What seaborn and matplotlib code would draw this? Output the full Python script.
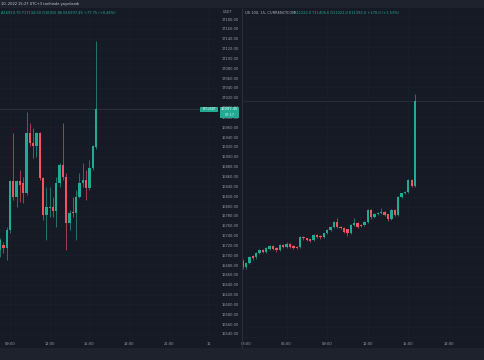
import matplotlib
matplotlib.use("Agg")
import matplotlib.pyplot as plt
from matplotlib.patches import Rectangle
from matplotlib.ticker import MultipleLocator, FuncFormatter
import numpy as np
import pandas as pd
import seaborn as sns

BG = "#161a25"
PANEL = "#1e222d"
GRID = "#1b1f2b"
UP = "#22ab94"
DOWN = "#f7525f"
TXT = "#9a9da6"
W, H = 485, 360

# BTCUSDT, 15 min (left pane)
btc_start = "2022-11-10 08:15"
btc_open = [16711, 16721, 16714, 16751, 16850, 16819, 16850, 16846, 16826, 16948,
            16928, 16921, 16948, 16856, 16782, 16795, 16799, 16789, 16846, 16884,
            16860, 16765, 16787, 16785, 16819, 16846, 16853, 16836, 16877, 16919.7]
btc_high = [16735, 16726, 16758, 16853, 16948, 16853, 16873, 16860, 16992, 16968,
            16958, 16951, 16951, 16860, 16839, 16839, 16819, 16860, 16887, 16968,
            16867, 16792, 16819, 16833, 16867, 16887, 16873, 16894, 16924, 17134.5]
btc_low = [16697, 16705, 16690, 16745, 16812, 16799, 16809, 16806, 16822, 16921,
           16897, 16900, 16853, 16772, 16731, 16778, 16778, 16758, 16839, 16853,
           16711, 16751, 16778, 16731, 16816, 16839, 16812, 16833, 16873, 16915.86]
btc_close = [16731, 16714, 16751, 16850, 16819, 16850, 16843, 16826, 16948, 16928,
             16921, 16948, 16856, 16782, 16799, 16799, 16789, 16846, 16884, 16860,
             16765, 16785, 16785, 16819, 16846, 16853, 16836, 16877, 16921, 16997.45]
btc_price_ticks = list(range(16540, 17181, 20))
btc_tick_times = ["2022-11-10 09:00", "2022-11-10 12:00", "2022-11-10 15:00",
                  "2022-11-10 18:00", "2022-11-10 21:00", "2022-11-11 00:00"]
btc_tick_labels = ["09:00", "12:00", "15:00", "18:00", "21:00", "11"]

# US 100, 15 min (right pane)
nq_start = "2022-11-10 02:45"
nq_open = [11072.6, 11059.4, 11068.6, 11082.0, 11079.4, 11087.4, 11094.0, 11090.0,
           11096.0, 11102.0, 11098.0, 11094.0, 11104.0, 11100.0, 11106.0, 11102.0,
           11100.6, 11100.6, 11120.6, 11117.4, 11115.4, 11114.0, 11124.0, 11122.0,
           11119.4, 11127.4, 11134.0, 11139.4, 11150.6, 11140.6, 11138.6, 11135.4,
           11128.6, 11144.0, 11148.6, 11144.0, 11144.0, 11150.6, 11174.0, 11160.6,
           11166.0, 11167.4, 11170.0, 11166.0, 11155.4, 11174.0, 11164.0, 11200.6,
           11207.4, 11210.6, 11234.0, 11222.0]
nq_high = [11076, 11071, 11083, 11085, 11091, 11097, 11097, 11100, 11105, 11104,
           11100, 11107, 11106, 11110, 11108, 11104, 11103, 11122, 11123, 11119,
           11117, 11126, 11126, 11124, 11129, 11136, 11142, 11152, 11157.4, 11142,
           11140, 11137, 11146, 11157.4, 11150, 11146, 11152, 11176, 11176, 11168,
           11170, 11177.4, 11172, 11167, 11176, 11176, 11202, 11209, 11212, 11236,
           11236, 11406.6]
nq_low = [11057, 11056, 11066, 11075, 11077, 11086, 11088, 11088, 11094, 11095,
          11090, 11092, 11098, 11098, 11099, 11096, 11096, 11099, 11115, 11112,
          11110, 11112, 11119, 11117, 11118, 11126, 11132, 11138, 11137.4, 11136,
          11129, 11122, 11127, 11142, 11139, 11140, 11142, 11149, 11157, 11159,
          11165, 11166, 11162, 11153, 11154, 11162, 11163, 11199, 11206, 11209,
          11220, 11221]
nq_close = [11060.6, 11068.6, 11080.6, 11077.4, 11088.6, 11094.0, 11090.0, 11098.0,
            11102.0, 11097.0, 11094.0, 11104.0, 11100.0, 11106.0, 11101.0, 11098.0,
            11098.0, 11120.6, 11117.4, 11114.0, 11112.6, 11124.0, 11120.6, 11119.4,
            11127.4, 11134.0, 11140.6, 11150.6, 11140.6, 11137.4, 11130.6, 11128.6,
            11144.0, 11147.4, 11140.6, 11142.0, 11150.6, 11174.0, 11159.4, 11166.0,
            11168.6, 11170.0, 11164.0, 11155.4, 11174.0, 11164.0, 11200.6, 11207.4,
            11210.6, 11234.0, 11222.0, 11392.0]
nq_tick_times = ["2022-11-10 03:00", "2022-11-10 06:00", "2022-11-10 09:00",
                 "2022-11-10 12:00", "2022-11-10 15:00", "2022-11-10 18:00"]
nq_tick_labels = ["03:00", "06:00", "09:00", "12:00", "15:00", "18:00"]


def make_frame(start, o, h, l, c):
    df = pd.DataFrame({"open": o, "high": h, "low": l, "close": c})
    df["time"] = pd.date_range(start, periods=len(df), freq="15min")
    return df


def draw_candles(ax, df):
    colors = np.where(df["close"] >= df["open"], UP, DOWN)
    bottom = df[["open", "close"]].min(axis=1)
    height = (df["close"] - df["open"]).abs().clip(lower=2)
    width = 10.5 / (24 * 60)
    ax.vlines(df["time"], df["low"], df["high"], colors=colors, lw=0.45)
    ax.bar(df["time"], height, bottom=bottom, width=width, color=colors, lw=0)
    ax.axhline(df["close"].iloc[-1], color="#2a353f", lw=0.6, zorder=0.5)


def px_axes(x0, y0, x1, y1):
    return fig.add_axes([x0 / W, 1 - y1 / H, (x1 - x0) / W, (y1 - y0) / H])


def style_axes(ax, ticks, labels):
    for s in ax.spines.values():
        s.set_visible(False)
    ax.set_xticks(pd.to_datetime(ticks))
    ax.set_xticklabels(labels)
    ax.grid(True, color=GRID, lw=0.5)
    ax.tick_params(axis="x", length=0, pad=1.6, labelsize=2.6, labelcolor=TXT)


sns.set_theme(style="dark", rc={"axes.facecolor": BG, "figure.facecolor": BG,
                                "axes.edgecolor": BG})
plt.rcParams["font.family"] = ["DejaVu Sans"]

btc = make_frame(btc_start, btc_open, btc_high, btc_low, btc_close)
nq = make_frame(nq_start, nq_open, nq_high, nq_low, nq_close)

fig = plt.figure(figsize=(W / 100, H / 100), dpi=100)

ax1 = px_axes(0, 8, 216, 340)
draw_candles(ax1, btc)
style_axes(ax1, btc_tick_times, btc_tick_labels)
ax1.set_xlim(pd.Timestamp("2022-11-10 08:14:40"), pd.Timestamp("2022-11-11 00:34:10"))
ax1.set_ylim(16527.8, 17202.4)
ax1.yaxis.tick_right()
ax1.set_yticks(btc_price_ticks)
ax1.yaxis.set_major_formatter(FuncFormatter(lambda v, p: f"{v:.2f}"))
ax1.tick_params(axis="y", length=0, pad=4.3, labelsize=2.6, labelcolor=TXT)

ax2 = px_axes(243, 8, 485, 340)
draw_candles(ax2, nq)
style_axes(ax2, nq_tick_times, nq_tick_labels)
ax2.set_xlim(pd.Timestamp("2022-11-10 02:46:50"), pd.Timestamp("2022-11-10 20:40:10"))
ax2.set_ylim(10914, 11578)
ax2.yaxis.set_major_locator(MultipleLocator(20))
ax2.tick_params(axis="y", length=0, labelleft=False)

# chrome: header bar, footer, separators, price labels
over = fig.add_axes([0, 0, 1, 1], facecolor="none")
over.set_xlim(0, W)
over.set_ylim(H, 0)
over.axis("off")
over.add_patch(Rectangle((0, 0), W, 8, color=PANEL, lw=0))
over.add_patch(Rectangle((0, 348), W, 12, color=PANEL, lw=0))
over.vlines(242, 8, 348, color="#2a2e39", lw=0.8)

over.text(1, 4.5, "10, 2022 15:27 UTC+3 tarihinde yayınlandı", fontsize=2.6,
          color="#c9ccd4", ha="left", va="center")
over.text(1, 13.5, "A16919.70 Y17134.50 D16915.86 K16997.45 +77.75 (+0.46%)",
          fontsize=2.6, color=UP, ha="left", va="center")
over.text(223, 12, "USDT", fontsize=2.5, color=TXT, ha="left", va="center")
over.text(245, 13.5, "US 100, 15, CURRENCYCOM", fontsize=2.6, color="#b2b5be",
          ha="left", va="center")
over.text(294, 13.5, "A11222.0 Y11406.6 D11221.0 K11392.0 +170.0 (+1.53%)",
          fontsize=2.6, color=UP, ha="left", va="center")

over.add_patch(Rectangle((200, 106.5), 18.5, 5.5, color=UP, lw=0))
over.text(209.2, 109.3, "BTCUSDT", fontsize=2.2, color="white", ha="center", va="center")
over.add_patch(Rectangle((220, 106.5), 19.5, 11.5, color=UP, lw=0))
over.text(229.7, 109.4, "16997.45", fontsize=2.6, color="white", ha="center", va="center")
over.text(229.7, 114.6, "07:17", fontsize=2.5, color="#d8f0ec", ha="center", va="center")

fig.savefig("out.png", dpi=100, facecolor=BG)
